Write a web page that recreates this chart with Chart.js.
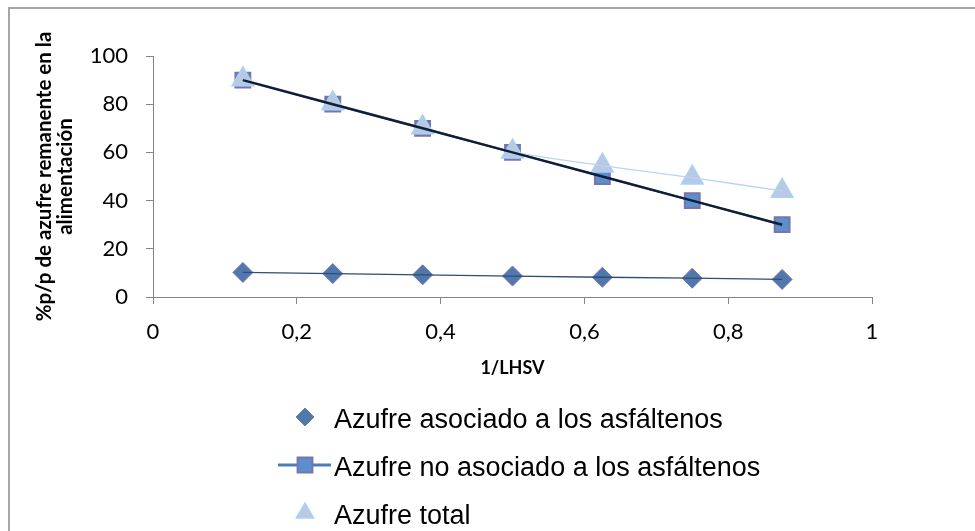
<!DOCTYPE html>
<html>
<head>
<meta charset="utf-8">
<script src="https://cdn.jsdelivr.net/npm/chart.js@4/dist/chart.umd.min.js"></script>
<style>
  html, body { margin: 0; padding: 0; background: #fff; overflow: hidden; }
  #frame {
    position: absolute; left: 8px; top: 7px; width: 1200px; height: 800px;
    border-top: 2px solid #a6a6a6; border-left: 2px solid #a6a6a6;
  }
  #chart { position: absolute; left: 0; top: 0; }
</style>
</head>
<body>
<div id="frame"></div>
<canvas id="chart" width="975" height="531"></canvas>
<script>
// 1/LHSV values and % p/p of sulphur still in the feed
const invLhsv = [0.125, 0.25, 0.375, 0.5, 0.625, 0.75, 0.875];
const azufreAsociado = [10.2, 9.7, 9.2, 8.7, 8.2, 7.8, 7.3];
const azufreNoAsociado = [90, 80, 70, 60, 50, 40, 30];
const azufreTotal = [90.3, 80.3, 70.3, 60.3, 54.5, 49.5, 44];

const xTicks = [0, 0.2, 0.4, 0.6, 0.8, 1];
const yTicks = [0, 20, 40, 60, 80, 100];

const legendLabels = [
    "Azufre asociado a los asfáltenos",
    "Azufre no asociado a los asfáltenos",
    "Azufre total"
];

const toPoints = ys => invLhsv.map((x, i) => ({ x: x, y: ys[i] }));

const axisGrey = "#868686";
const tickFont = { family: "Lato", size: 22 };

// legend stacked one entry per row under the plot
const stackedLegend = {
    id: "stackedLegend",
    afterDraw(chart) {
        const ctx = chart.ctx;
        const rows = [417, 465, 513];
        ctx.save();
        ctx.font = "27px 'Liberation Sans', Arial, sans-serif";
        ctx.textBaseline = "middle";
        for (let i = 0; i < 3; i++) {
            const ds = chart.data.datasets[i];
            const y = rows[i];
            if (ds.showLine) {
                ctx.strokeStyle = ds.borderColor;
                ctx.lineWidth = 3;
                ctx.beginPath();
                ctx.moveTo(278, y);
                ctx.lineTo(331, y);
                ctx.stroke();
            }
            ctx.fillStyle = ds.pointBackgroundColor;
            ctx.strokeStyle = ds.pointBorderColor;
            ctx.lineWidth = ds.pointBorderWidth;
            Chart.helpers.drawPoint(ctx, {
                pointStyle: ds.pointStyle,
                radius: ds.legendRadius,
                rotation: 0,
                borderWidth: ds.pointBorderWidth
            }, 305, y);
            ctx.fillStyle = "#000";
            ctx.fillText(legendLabels[i], 334, y + 4);
        }
        ctx.restore();
    }
};

new Chart(document.getElementById("chart"), {
    type: "scatter",
    data: {
        datasets: [
            {
                label: legendLabels[0],
                data: toPoints(azufreAsociado),
                showLine: false,
                pointStyle: "rectRot",
                pointRadius: 10,
                legendRadius: 9,
                pointBackgroundColor: "#4f79ad",
                pointBorderColor: "#7b72a8",
                pointBorderWidth: 1,
                order: 5
            },
            {
                label: legendLabels[1],
                data: toPoints(azufreNoAsociado),
                showLine: true,
                borderColor: "#4a7ebb",
                borderWidth: 2,
                pointStyle: "rect",
                pointRadius: 10.5,
                legendRadius: 10.5,
                pointBackgroundColor: "#5b8fcd",
                pointBorderColor: "#7b74a8",
                pointBorderWidth: 2,
                order: 4
            },
            {
                label: legendLabels[2],
                data: toPoints(azufreTotal),
                showLine: false,
                pointStyle: "triangle",
                pointRadius: 12.5,
                legendRadius: 10,
                pointBackgroundColor: "#b8c9e3",
                pointBorderColor: "#a9d1f7",
                pointBorderWidth: 1.5,
                order: 3
            },
            // trend lines drawn above the markers
            {
                data: toPoints(azufreTotal),
                showLine: true,
                borderColor: "#b9d5f1",
                borderWidth: 1.3,
                cubicInterpolationMode: "monotone",
                pointRadius: 0,
                order: 2
            },
            {
                data: toPoints(azufreNoAsociado),
                showLine: true,
                borderColor: "#0e1f36",
                borderWidth: 2.5,
                pointRadius: 0,
                order: 1
            },
            {
                data: toPoints(azufreAsociado),
                showLine: true,
                borderColor: "#2b4e7a",
                borderWidth: 1.3,
                pointRadius: 0,
                order: 0
            }
        ]
    },
    options: {
        responsive: false,
        animation: false,
        events: [],
        layout: { padding: { top: 56, right: 103, left: 0, bottom: 0 } },
        plugins: {
            legend: { display: false },
            tooltip: { enabled: false }
        },
        scales: {
            x: {
                type: "linear",
                min: 0,
                max: 1,
                afterBuildTicks: s => { s.ticks = xTicks.map(v => ({ value: v })); },
                afterFit: s => { s.height = 234; },
                ticks: {
                    color: "#000",
                    font: tickFont,
                    padding: 15,
                    maxRotation: 0,
                    callback: v => String(v).replace(".", ",")
                },
                grid: {
                    drawOnChartArea: false,
                    tickLength: 7,
                    color: axisGrey
                },
                border: { color: axisGrey, width: 1 },
                title: {
                    display: true,
                    text: "1/LHSV",
                    color: "#000",
                    font: { family: "Lato", size: 18, weight: "bold" },
                    padding: { top: 0, bottom: 152 }
                }
            },
            y: {
                min: 0,
                max: 100,
                afterBuildTicks: s => { s.ticks = yTicks.map(v => ({ value: v })); },
                afterFit: s => { s.width = 153; },
                ticks: {
                    color: "#000",
                    font: tickFont,
                    padding: 18
                },
                grid: {
                    drawOnChartArea: false,
                    tickLength: 7,
                    color: axisGrey
                },
                border: { color: axisGrey, width: 1 },
                title: {
                    display: true,
                    text: ["%p/p de azufre remanente en la", "alimentación"],
                    color: "#000",
                    font: { family: "Lato", size: 20.5, weight: "bold", lineHeight: 1.03 },
                    padding: { top: 34, bottom: 0 }
                }
            }
        }
    },
    plugins: [stackedLegend]
});
</script>
</body>
</html>
